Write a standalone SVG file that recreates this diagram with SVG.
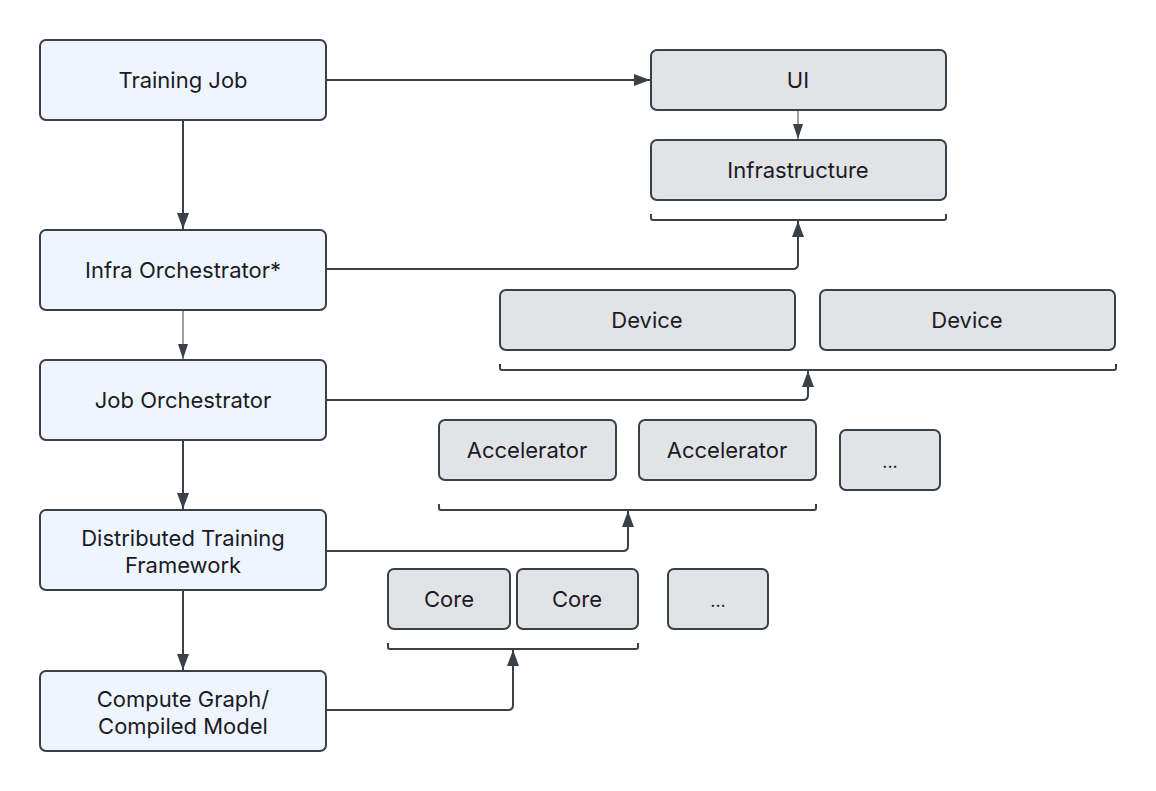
<svg xmlns="http://www.w3.org/2000/svg" width="1156" height="791" viewBox="0 0 1156 791">
<defs>
<marker id="ah" markerUnits="userSpaceOnUse" markerWidth="17" markerHeight="12" refX="16" refY="6" orient="auto">
<path d="M0,0 L16,6 L0,12 z" fill="#3a3f48"/>
</marker>
<marker id="ahs" markerUnits="userSpaceOnUse" markerWidth="16" markerHeight="10" refX="15" refY="5" orient="auto">
<path d="M0,0 L15,5 L0,10 z" fill="#3a3f48"/>
</marker>
</defs>
<style>
.blue{fill:#eef5ff;stroke:#3a3f48;stroke-width:2}
.gray{fill:#e1e3e7;stroke:#3a3f48;stroke-width:2}
.lbl{font-family:Inter,"Noto Sans",sans-serif;font-size:22px;fill:#1b1b1f;text-anchor:middle}
.c{fill:none;stroke:#3a3f48;stroke-width:2}
.t{fill:none;stroke:#3a3f48;stroke-width:1}
.br{fill:none;stroke:#3a3f48;stroke-width:2}
</style>
<rect width="1156" height="791" fill="#ffffff"/>
<g id="connectors">
<path class="c" d="M326,80 H650" marker-end="url(#ah)"/>
<path class="t" d="M798,110 V139" marker-end="url(#ahs)"/>
<path class="c" d="M183,120 V229" marker-end="url(#ah)"/>
<path class="c" d="M326,269 H793 Q798,269 798,264 V221" marker-end="url(#ah)"/>
<path class="t" d="M183,310 V359" marker-end="url(#ahs)"/>
<path class="c" d="M326,400 H803 Q808,400 808,395 V371" marker-end="url(#ah)"/>
<path class="c" d="M183,440 V509" marker-end="url(#ah)"/>
<path class="c" d="M326,551 H623 Q628,551 628,546 V511" marker-end="url(#ah)"/>
<path class="c" d="M183,590 V670" marker-end="url(#ah)"/>
<path class="c" d="M326,710 H508 Q513,710 513,705 V650" marker-end="url(#ah)"/>
</g>
<g id="brackets">
<path class="br" d="M651,214 V218 Q651,220 653,220 H944 Q946,220 946,218 V214"/>
<path class="br" d="M500,364 V368 Q500,370 502,370 H1114 Q1116,370 1116,368 V364"/>
<path class="br" d="M439,504 V508 Q439,510 441,510 H814 Q816,510 816,508 V504"/>
<path class="br" d="M388,643 V647 Q388,649 390,649 H636 Q638,649 638,647 V643"/>
</g>
<g id="training-job"><rect class="blue" x="40" y="40" width="286" height="80" rx="6"/><text class="lbl" x="183" y="88">Training Job</text></g>
<g id="infra-orchestrator"><rect class="blue" x="40" y="230" width="286" height="80" rx="6"/><text class="lbl" x="183" y="278">Infra Orchestrator*</text></g>
<g id="job-orchestrator"><rect class="blue" x="40" y="360" width="286" height="80" rx="6"/><text class="lbl" x="183" y="408">Job Orchestrator</text></g>
<g id="distributed-training-framework"><rect class="blue" x="40" y="510" width="286" height="80" rx="6"/><text class="lbl" x="183" y="546">Distributed Training</text><text class="lbl" x="183" y="573">Framework</text></g>
<g id="compute-graph"><rect class="blue" x="40" y="671" width="286" height="80" rx="6"/><text class="lbl" x="183" y="707">Compute Graph/</text><text class="lbl" x="183" y="734">Compiled Model</text></g>
<g id="ui"><rect class="gray" x="651" y="50" width="295" height="60" rx="6"/><text class="lbl" x="798" y="88">UI</text></g>
<g id="infrastructure"><rect class="gray" x="651" y="140" width="295" height="60" rx="6"/><text class="lbl" x="798" y="178">Infrastructure</text></g>
<g id="device-1"><rect class="gray" x="500" y="290" width="295" height="60" rx="6"/><text class="lbl" x="647" y="328">Device</text></g>
<g id="device-2"><rect class="gray" x="820" y="290" width="295" height="60" rx="6"/><text class="lbl" x="967" y="328">Device</text></g>
<g id="accelerator-1"><rect class="gray" x="439" y="420" width="177" height="60" rx="6"/><text class="lbl" x="527" y="458">Accelerator</text></g>
<g id="accelerator-2"><rect class="gray" x="639" y="420" width="177" height="60" rx="6"/><text class="lbl" x="727" y="458">Accelerator</text></g>
<g id="accelerator-more"><rect class="gray" x="840" y="430" width="100" height="60" rx="6"/><text class="lbl" x="890" y="468" style="font-size:18px">...</text></g>
<g id="core-1"><rect class="gray" x="388" y="569" width="122" height="60" rx="6"/><text class="lbl" x="449" y="607">Core</text></g>
<g id="core-2"><rect class="gray" x="517" y="569" width="121" height="60" rx="6"/><text class="lbl" x="577" y="607">Core</text></g>
<g id="core-more"><rect class="gray" x="668" y="569" width="100" height="60" rx="6"/><text class="lbl" x="718" y="607" style="font-size:18px">...</text></g>
</svg>
